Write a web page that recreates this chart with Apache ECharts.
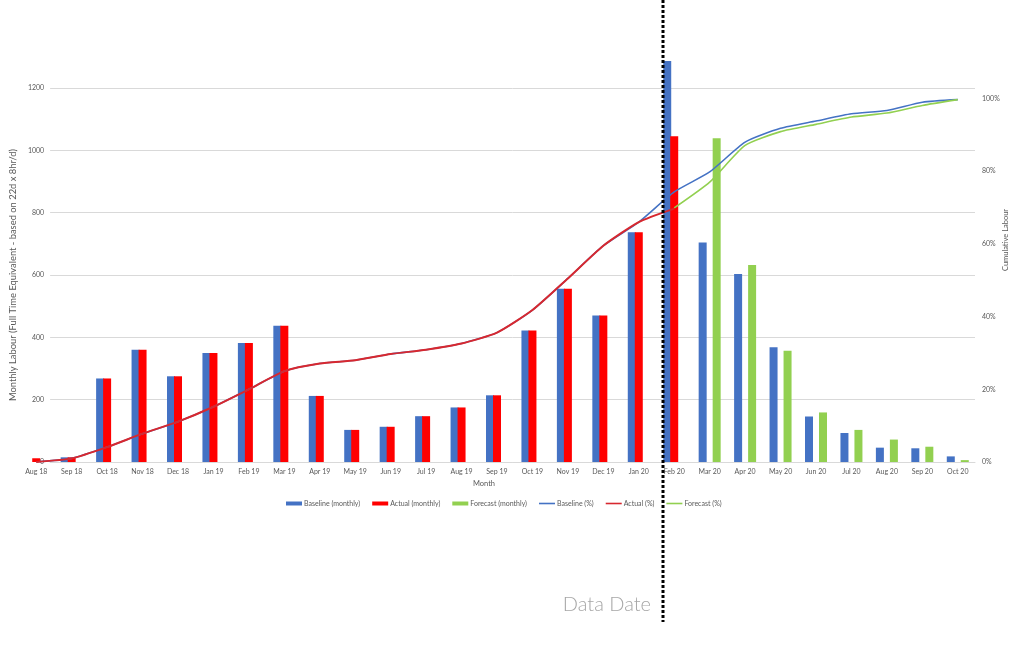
<!DOCTYPE html>
<html>
<head>
<meta charset="utf-8">
<script src="https://cdn.jsdelivr.net/npm/echarts@6/dist/echarts.min.js"></script>
<style>
html,body{margin:0;padding:0;background:#fff;}
#chart{width:1024px;height:646px;}
</style>
</head>
<body>
<div id="chart"></div>
<script>
const months = ['Aug 18','Sep 18','Oct 18','Nov 18','Dec 18','Jan 19','Feb 19','Mar 19','Apr 19','May 19','Jun 19','Jul 19','Aug 19','Sep 19','Oct 19','Nov 19','Dec 19','Jan 20','Feb 20','Mar 20','Apr 20','May 20','Jun 20','Jul 20','Aug 20','Sep 20','Oct 20'];
const baselineMonthly = [0,15,268,360,275,350,382,437,212,103,113,147,175,214,422,556,470,737,1287,704,603,368,146,93,46,44,18];
const actualMonthly = [12,15,268,360,275,350,382,437,212,103,113,147,175,214,422,556,470,737,1045,null,null,null,null,null,null,null,null];
const forecastMonthly = [null,null,null,null,null,null,null,null,null,null,null,null,null,null,null,null,null,null,null,1039,632,357,159,103,72,49,6];
const baselinePct = [0,1,4.1,7.8,11.1,15.2,20.0,25.0,27.1,28.0,29.7,30.9,32.6,35.6,41.8,50.5,59.5,66.0,74.3,79.8,88.0,91.8,93.8,95.8,96.7,99.0,99.7];
const actualPct = [0,1,4.1,7.8,11.1,15.2,20.0,25.0,27.1,28.0,29.7,30.9,32.6,35.6,41.8,50.5,59.5,66.0,69.7,null,null,null,null,null,null,null,null];
const forecastPct = [null,null,null,null,null,null,null,null,null,null,null,null,null,null,null,null,null,null,69.9,77.0,87.1,90.9,92.9,94.9,96.0,98.1,99.7];
const leftTicks = {min:0, max:1200, interval:200};
const rightTicks = {min:0, max:102.9, interval:20};

const FONT = 'Lato';
const GREY = '#595959';
const LINE_ICON = 'path://M0,0H16V1.6H0Z';
const chart = echarts.init(document.getElementById('chart'), null, {renderer:'canvas'});
chart.setOption({
  animation:false,
  backgroundColor:'#ffffff',
  textStyle:{fontFamily:FONT},
  grid:[
    {left:35, right:49, top:88, bottom:184},
    {left:18.5, right:48.5, top:88, bottom:184}
  ],
  legend:{
    left:286, top:500, padding:0,
    itemWidth:16, itemHeight:4, itemGap:12,
    textStyle:{fontSize:7, color:GREY, fontFamily:FONT, padding:[0,0,0,-3]},
    data:[
      {name:'Baseline (monthly)', icon:'rect'},
      {name:'Actual (monthly)', icon:'rect'},
      {name:'Forecast (monthly)', icon:'rect'},
      {name:'Baseline (%)', icon:LINE_ICON},
      {name:'Actual (%)', icon:LINE_ICON},
      {name:'Forecast (%)', icon:LINE_ICON}
    ]
  },
  xAxis:[
    {gridIndex:0, type:'category', data:months, boundaryGap:true,
     axisLine:{lineStyle:{color:'#d9d9d9', width:1}}, axisTick:{show:false}, axisLabel:{show:false}},
    {gridIndex:1, type:'category', data:months, boundaryGap:true,
     axisLine:{show:false}, axisTick:{show:false},
     axisLabel:{interval:0, fontSize:7, color:GREY, margin:6, fontFamily:FONT},
     name:'Month', nameLocation:'middle', nameGap:17,
     nameTextStyle:{fontSize:7.5, color:GREY, fontFamily:FONT, padding:[0,26,0,0]}}
  ],
  yAxis:[
    {gridIndex:0, type:'value', min:leftTicks.min, max:leftTicks.max, interval:leftTicks.interval,
     axisLine:{show:false}, axisTick:{show:false},
     axisLabel:{fontSize:7, color:GREY, margin:6, fontFamily:FONT, formatter:function(v){return String(v);}},
     splitLine:{lineStyle:{color:'#d9d9d9', width:1}},
     name:'Monthly Labour (Full Time Equivalent - based on 22d x 8hr/d)',
     nameLocation:'middle', nameGap:28, nameRotate:90,
     nameTextStyle:{fontSize:9.4, color:GREY, fontFamily:FONT}},
    {gridIndex:0, type:'value', position:'right', min:rightTicks.min, max:rightTicks.max, interval:rightTicks.interval,
     axisLine:{show:false}, axisTick:{show:false}, splitLine:{show:false},
     axisLabel:{fontSize:7, color:GREY, margin:7, fontFamily:FONT, showMaxLabel:false,
       formatter:function(v){return Math.round(v) + '%';}}},
    {gridIndex:1, type:'value', min:leftTicks.min, max:leftTicks.max, show:false, splitLine:{show:false}},
    {gridIndex:1, type:'value', min:rightTicks.min, max:rightTicks.max, show:false, splitLine:{show:false}}
  ],
  series:[
    {name:'Baseline (monthly)', type:'bar', xAxisIndex:1, yAxisIndex:2, data:baselineMonthly,
     barWidth:8, barGap:'-12.5%', clip:false, itemStyle:{color:'#4472c4'}},
    {name:'Actual (monthly)', type:'bar', xAxisIndex:1, yAxisIndex:2, data:actualMonthly,
     barWidth:8, barGap:'-12.5%', clip:false, itemStyle:{color:'#ff0000'}},
    {name:'Forecast (monthly)', type:'bar', xAxisIndex:1, yAxisIndex:2, data:forecastMonthly,
     barWidth:8, barGap:'-12.5%', clip:false, itemStyle:{color:'#92d050'}},
    {name:'Baseline (%)', type:'line', xAxisIndex:1, yAxisIndex:3, data:baselinePct,
     symbol:'none', smooth:0.2, lineStyle:{color:'#4472c4', width:1.6}, itemStyle:{color:'#4472c4'}},
    {name:'Actual (%)', type:'line', xAxisIndex:1, yAxisIndex:3, data:actualPct,
     symbol:'none', smooth:0.2, lineStyle:{color:'#d7282f', width:2}, itemStyle:{color:'#d7282f'}},
    {name:'Forecast (%)', type:'line', xAxisIndex:1, yAxisIndex:3, data:forecastPct,
     symbol:'none', smooth:0.2, lineStyle:{color:'#92d050', width:1.6}, itemStyle:{color:'#92d050'}}
  ],
  graphic:[
    {type:'text', x:1006, y:240, rotation:Math.PI/2, z:10,
     style:{text:'Cumulative Labour', fontSize:7.5, fill:GREY, fontFamily:FONT, align:'center', verticalAlign:'middle'}},
    {type:'line', z:20, shape:{x1:663, y1:0, x2:663, y2:622},
     style:{stroke:'#000000', lineWidth:3, lineDash:[3,2]}},
    {type:'text', x:651, y:605, z:20,
     style:{text:'Data Date', fontSize:20, fill:'#a6a6a6', fontFamily:FONT, fontWeight:300, align:'right', verticalAlign:'middle'}}
  ]
});
</script>
</body>
</html>
